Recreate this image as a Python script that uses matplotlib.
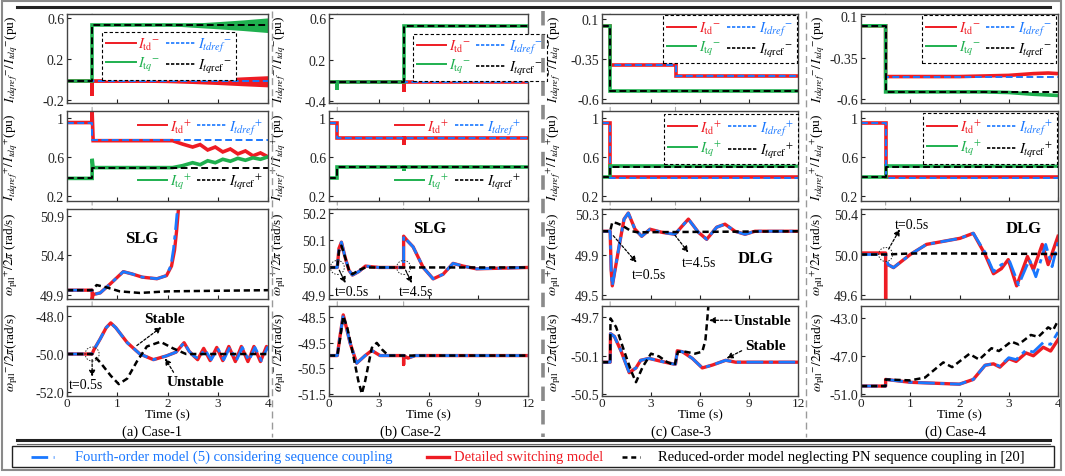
import matplotlib.pyplot as plt
from matplotlib.lines import Line2D
from matplotlib.patches import Rectangle, Circle, ConnectionPatch
from matplotlib.transforms import ScaledTranslation

plt.rcParams['font.family'] = ['Liberation Serif', 'DejaVu Serif']
plt.rcParams['mathtext.fontset'] = 'stix'
plt.rcParams['font.size'] = 10

RED = '#ee1c24'
BLUE = '#1a78ff'
GREEN = '#1fb04f'
GRAY = '#9a9a9a'
W, H = 1065, 477

# ---------------- Case-1 ----------------
c1_faults = [0.5]
c1_itdn_t = [0, 0.5, 0.5, 0.5, 4]
c1_itdn = [-0.02, -0.02, -0.16, -0.02, -0.02]
c1_itqn_t = [0, 0.5, 0.5, 4]
c1_itqn = [-0.02, -0.02, 0.53, 0.53]
c1_itdrefn_t = [0, 4]
c1_itdrefn = [-0.02, -0.02]
c1_itqrefn = [-0.02, -0.02, 0.53, 0.53]
# growing oscillation envelopes (half widths)
c1_band_t = [0.5, 1.5, 2.0, 2.5, 3.0, 3.5, 4.0]
c1_itdn_hw = [0.008, 0.01, 0.014, 0.022, 0.032, 0.044, 0.055]
c1_itqn_hw = [0.0, 0.0, 0.004, 0.02, 0.035, 0.052, 0.072]

c1_itdp_t = [0, 0.5, 0.5, 0.52, 2.1, 2.3, 2.5, 2.65, 2.8, 2.95, 3.1, 3.25, 3.4, 3.55, 3.7, 3.85, 4.0]
c1_itdp = [0.95, 0.95, 1.06, 0.765, 0.765, 0.73, 0.70, 0.725, 0.67, 0.70, 0.65, 0.68, 0.63, 0.66, 0.61, 0.64, 0.60]
c1_itqp_t = [0, 0.5, 0.5, 0.52, 2.1, 2.3, 2.5, 2.65, 2.8, 2.95, 3.1, 3.25, 3.4, 3.55, 3.7, 3.85, 4.0]
c1_itqp = [0.38, 0.38, 0.58, 0.49, 0.49, 0.51, 0.54, 0.52, 0.56, 0.54, 0.575, 0.555, 0.585, 0.565, 0.59, 0.575, 0.60]
c1_itdrefp_t = [0, 0.5, 0.5, 4]
c1_itdrefp = [0.95, 0.95, 0.77, 0.77]
c1_itqrefp = [0.38, 0.38, 0.49, 0.49]

c1_wpp_red_t = [0, 0.5, 0.5, 0.52, 0.66, 0.87, 1.12, 1.3, 1.5, 1.79, 1.98, 2.08, 2.14, 2.18, 2.22]
c1_wpp_red = [49.955, 49.955, 49.84, 49.9, 49.92, 50.04, 50.19, 50.16, 50.12, 50.1, 50.14, 50.26, 50.46, 50.7, 51.0]
c1_wpp_blue_t = [0, 0.5, 0.52, 0.66, 0.87, 1.12, 1.3, 1.5, 1.79, 1.98, 2.07, 2.12, 2.16, 2.2]
c1_wpp_blue = [49.955, 49.955, 49.9, 49.92, 50.04, 50.19, 50.16, 50.12, 50.1, 50.14, 50.27, 50.48, 50.72, 51.0]
c1_wpp_blk_t = [0, 0.5, 0.59, 0.79, 1.05, 1.45, 2.0, 4]
c1_wpp_blk = [49.955, 49.955, 50.02, 49.99, 49.94, 49.92, 49.94, 49.955]

c1_wpn_red_t = [0, 0.5, 0.53, 0.66, 0.78, 0.87, 0.97, 1.2, 1.45, 1.72, 1.98, 2.17, 2.33, 2.43, 2.52,
                2.6, 2.72, 2.85, 2.98, 3.1, 3.22, 3.35, 3.47, 3.6, 3.72, 3.85, 3.97, 4.0]
c1_wpn_red = [-50, -50, -49.8, -49.2, -48.6, -48.35, -48.6, -49.4, -50.0, -50.3, -50.1, -49.9, -49.4, -49.85, -50.1,
              -50.3, -49.7, -50.35, -49.65, -50.35, -49.6, -50.4, -49.6, -50.4, -49.6, -50.4, -49.6, -49.7]
c1_wpn_blue_t = [0, 0.5, 0.53, 0.66, 0.78, 0.87, 0.97, 1.2, 1.45, 1.72, 1.98, 2.17, 2.33, 2.43, 2.52,
                 2.62, 2.74, 2.87, 3.0, 3.12, 3.24, 3.37, 3.49, 3.62, 3.74, 3.87, 3.99, 4.0]
c1_wpn_blue = [-50, -50, -49.8, -49.2, -48.6, -48.35, -48.6, -49.4, -50.0, -50.3, -50.1, -49.9, -49.4, -49.85, -50.1,
               -50.25, -49.75, -50.3, -49.7, -50.3, -49.65, -50.35, -49.65, -50.35, -49.65, -50.35, -49.65, -49.7]
c1_wpn_blk_t = [0, 0.5, 0.66, 0.87, 1.03, 1.2, 1.39, 1.59, 1.86, 2.11, 2.37, 4]
c1_wpn_blk = [-50, -50, -50.44, -51.15, -51.6, -51.3, -50.4, -49.6, -49.35, -49.7, -50.0, -50.0]

# ---------------- Case-2 ----------------
c2_faults = [0.5, 4.5]
c2_itdn_t = [0, 0.5, 4.5, 4.5, 4.5, 12]
c2_itdn = [-0.02, -0.02, -0.02, -0.12, -0.02, -0.02]
c2_itqn_t = [0, 0.5, 0.5, 0.5, 4.5, 4.5, 12]
c2_itqn = [-0.02, -0.02, -0.10, -0.02, -0.02, 0.53, 0.53]
c2_itdrefn_t = [0, 12]
c2_itdrefn = [-0.02, -0.02]
c2_itqrefn_t = [0, 4.5, 4.5, 12]
c2_itqrefn = [-0.02, -0.02, 0.53, 0.53]

c2_itdp_t = [0, 0.5, 0.5, 4.5, 4.5, 4.5, 12]
c2_itdp = [0.95, 0.95, 0.79, 0.79, 0.72, 0.79, 0.79]
c2_itqp_t = [0, 0.5, 0.5, 4.5, 4.5, 4.5, 12]
c2_itqp = [0.38, 0.38, 0.50, 0.50, 0.46, 0.50, 0.50]
c2_ref_t = [0, 0.5, 0.5, 12]
c2_itdrefp = [0.95, 0.95, 0.79, 0.79]
c2_itqrefp = [0.38, 0.38, 0.50, 0.50]

c2_wpp_red_t = [0, 0.5, 0.6, 0.75, 0.96, 1.2, 1.41, 1.8, 2.2, 3.0, 4.5, 4.5, 4.7, 5.07, 5.68, 6.28,
                6.88, 7.48, 8.09, 8.9, 12]
c2_wpp_red = [50.0, 50.0, 50.07, 50.093, 50.04, 49.99, 49.972, 49.985, 50.005, 50.0, 50.0, 50.115, 50.1, 50.076,
              50.0, 49.958, 49.975, 50.015, 50.005, 49.995, 50.0]
c2_wpp_blue_t = c2_wpp_red_t
c2_wpp_blue = c2_wpp_red
c2_wpp_blk_t = [0, 0.5, 0.6, 0.75, 0.96, 1.2, 1.41, 1.8, 2.2, 12]
c2_wpp_blk = [50.0, 50.0, 50.06, 50.08, 50.04, 49.99, 49.975, 49.99, 50.0, 50.0]

c2_wpn_red_t = [0, 0.5, 0.65, 0.86, 1.05, 1.27, 1.67, 2.18, 2.58, 3.08, 4.5, 4.5, 4.5, 4.76, 5.2, 12]
c2_wpn_red = [-50, -50, -49.3, -48.4, -48.9, -49.5, -50.3, -50.0, -49.8, -50.0, -50.0, -50.35, -50.0, -50.1, -50.0, -50.0]
c2_wpn_blue_t = [0, 0.5, 0.65, 0.86, 1.05, 1.27, 1.67, 2.18, 2.58, 3.08, 4.5, 4.76, 5.2, 12]
c2_wpn_blue = [-50, -50, -49.3, -48.4, -48.9, -49.5, -50.3, -50.0, -49.8, -50.0, -50.0, -50.1, -50.0, -50.0]
c2_wpn_blk_t = [0, 0.5, 0.65, 0.86, 1.1, 1.37, 1.77, 1.98, 2.18, 2.58, 2.88, 3.18, 3.58, 12]
c2_wpn_blk = [-50, -50, -49.4, -48.45, -48.9, -49.7, -51.0, -51.5, -51.0, -49.7, -49.5, -49.75, -50.0, -50.0]

# ---------------- Case-3 ----------------
c3_faults = [0.5, 4.5]
c3_itdn_t = [0, 0.5, 0.5, 4.5, 4.5, 12]
c3_itdn = [0.045, 0.045, -0.305, -0.305, -0.40, -0.40]
c3_itqn_t = [0, 0.5, 0.5, 12]
c3_itqn = [0.045, 0.045, -0.53, -0.53]
c3_itdrefn = [0.045, 0.045, -0.305, -0.305, -0.40, -0.40]
c3_itqrefn = [0.045, 0.045, -0.53, -0.53]

c3_itdp_t = [0, 0.5, 0.5, 12]
c3_itdp = [0.95, 0.95, 0.39, 0.39]
c3_itqp_t = [0, 0.5, 0.5, 4.5, 4.5, 4.5, 12]
c3_itqp = [0.39, 0.39, 0.51, 0.51, 0.53, 0.51, 0.51]
c3_itdrefp = [0.95, 0.95, 0.385, 0.385]
c3_itqrefp_t = [0, 0.5, 0.5, 12]
c3_itqrefp = [0.39, 0.39, 0.50, 0.50]

c3_wpp_red_t = [0, 0.5, 0.56, 0.63, 0.8, 1.1, 1.35, 1.61, 2.02, 2.43, 2.94, 3.65, 4.47, 4.9, 5.29, 5.9,
                6.41, 7.02, 7.53, 8.14, 8.76, 9.37, 12]
c3_wpp_red = [50.13, 50.13, 49.75, 49.59, 49.75, 50.03, 50.25, 50.31, 50.15, 50.08, 50.15, 50.12, 50.1, 50.18,
              50.25, 50.12, 50.05, 50.17, 50.2, 50.13, 50.1, 50.13, 50.13]
c3_wpp_blue_t = c3_wpp_red_t
c3_wpp_blue = c3_wpp_red
c3_wpp_blk_t = [0, 0.5, 0.63, 0.9, 1.2, 1.5, 1.8, 2.2, 12]
c3_wpp_blk = [50.13, 50.13, 50.22, 50.21, 50.19, 50.16, 50.13, 50.12, 50.13]

c3_wpn_red_t = [0, 0.5, 0.52, 0.76, 1.16, 1.67, 2.08, 2.37, 2.88, 3.6, 4.4, 4.5, 4.61, 4.92, 5.53, 6.14,
                6.76, 7.57, 8.18, 12]
c3_wpn_red = [-50.17, -50.17, -49.87, -49.9, -50.05, -50.28, -50.23, -50.15, -50.13, -50.16, -50.19, -50.19,
              -50.05, -50.06, -50.13, -50.23, -50.2, -50.15, -50.17, -50.17]
c3_wpn_blue_t = c3_wpn_red_t
c3_wpn_blue = c3_wpn_red
c3_wpn_blk_t = [0, 0.5, 0.52, 0.86, 1.37, 1.78, 2.08, 2.49, 3.0, 3.5, 4.0, 4.45, 4.65, 5.1, 5.7, 6.14,
                6.33, 6.44, 6.55]
c3_wpn_blk = [-50.17, -50.17, -49.71, -49.8, -50.06, -50.26, -50.38, -50.22, -50.08, -50.11, -50.17, -50.2,
              -50.06, -50.06, -50.08, -50.06, -49.94, -49.73, -49.5]

# ---------------- Case-4 ----------------
c4_faults = [0.5]
c4_itdn_t = [0, 0.5, 0.5, 2.0, 3.0, 3.5, 3.8, 4.0]
c4_itdn = [0.02, 0.02, -0.41, -0.41, -0.40, -0.385, -0.38, -0.385]
c4_itqn_t = [0, 0.5, 0.5, 2.5, 3.0, 3.5, 4.0]
c4_itqn = [0.02, 0.02, -0.54, -0.54, -0.545, -0.56, -0.57]
c4_ref_t = [0, 0.5, 0.5, 4]
c4_itdrefn = [0.02, 0.02, -0.41, -0.41]
c4_itqrefn = [0.02, 0.02, -0.54, -0.54]

c4_itdp = [0.95, 0.95, 0.39, 0.39]
c4_itqp = [0.39, 0.39, 0.51, 0.51]
c4_itdrefp = [0.95, 0.95, 0.385, 0.385]
c4_itqrefp = [0.39, 0.39, 0.50, 0.50]

c4_wpp_red_t = [0, 0.5, 0.5, 0.5, 0.55, 0.66, 1.0, 1.33, 1.67, 2.01, 2.28, 2.52, 2.69, 2.85, 2.99, 3.16,
                3.38, 3.5, 3.68, 3.8, 4.0]
c4_wpp_red = [50.015, 50.015, 49.56, 49.9, 49.9, 49.87, 50.0, 50.1, 50.13, 50.16, 50.21, 50.0, 49.81, 49.86,
              49.95, 49.69, 49.98, 49.85, 50.1, 49.9, 50.18]
c4_wpp_blue_t = [0, 0.5, 0.55, 0.66, 1.0, 1.33, 1.67, 2.01, 2.28, 2.52, 2.69, 2.85, 3.02, 3.2, 3.42, 3.55,
                 3.75, 3.88, 4.0]
c4_wpp_blue = [50.0, 50.0, 49.9, 49.87, 50.0, 50.1, 50.13, 50.16, 50.21, 50.02, 49.83, 49.9, 49.93, 49.7,
               49.95, 49.78, 50.1, 49.88, 50.12]
c4_wpp_blk_t = [0, 0.5, 1.0, 2.0, 4.0]
c4_wpp_blk = [50.0, 50.0, 50.01, 50.01, 50.005]

c4_wpn_red_t = [0, 0.5, 0.5, 1.0, 2.0, 2.28, 2.52, 2.69, 2.82, 3.0, 3.15, 3.35, 3.5, 3.7, 3.85, 4.0]
c4_wpn_red = [-50.2, -50.2, -49.5, -49.8, -50.0, -49.5, -48.0, -47.85, -48.2, -47.3, -47.6, -46.7, -47.0,
              -46.1, -46.5, -45.3]
c4_wpn_blue_t = c4_wpn_red_t
c4_wpn_blue = [-50.2, -50.2, -49.5, -49.8, -50.0, -49.5, -48.0, -47.85, -48.1, -47.2, -47.4, -46.4, -46.6,
               -45.6, -45.8, -44.5]
c4_wpn_blk_t = [0, 0.5, 0.5, 1.0, 1.3, 1.67, 1.85, 2.2, 2.4, 2.65, 2.8, 3.05, 3.2, 3.45, 3.6, 3.8, 3.9, 4.0]
c4_wpn_blk = [-50.2, -50.2, -49.5, -49.6, -49.3, -47.7, -48.2, -46.8, -47.4, -46.2, -46.5, -45.5, -45.8,
              -44.8, -45.0, -44.0, -44.3, -43.3]

subcaps = ['(a) Case-1', '(b) Case-2', '(c) Case-3', '(d) Case-4']

# ---------------- figure ----------------
fig = plt.figure(figsize=(W / 100, H / 100), dpi=100)

col_x = [(67, 268), (329, 528), (602, 798), (861, 1058)]
row_y = [(15, 104), (112, 202), (210, 300), (307, 397)]
axs = [[fig.add_axes([x0 / W, 1 - y1 / H, (x1 - x0) / W, (y1 - y0) / H]) for (x0, x1) in col_x]
       for (y0, y1) in row_y]

DASH = (0, (3.5, 1.8))


def cur_panel(ax, t_red, red, t_grn, grn, t_blu, blu, t_blk, blk):
    ax.plot(t_red, red, color=RED, lw=2.6, solid_joinstyle='miter')
    ax.plot(t_grn, grn, color=GREEN, lw=2.6, solid_joinstyle='miter')
    ax.plot(t_blu, blu, color=BLUE, lw=1.4, ls=DASH)
    ax.plot(t_blk, blk, color='k', lw=1.4, ls=DASH)


def wp_panel(ax, t_red, red, t_blu, blu, t_blk, blk):
    ax.plot(t_red, red, color=RED, lw=2.4)
    ax.plot(t_blu, blu, color=BLUE, lw=2.0, ls=(0, (6, 2, 1.5, 2)))
    ax.plot(t_blk, blk, color='k', lw=1.8, ls=(0, (2.5, 1.5)))


def style(ax, xmax, xticks, ylim, yticks, ylabels, show_x):
    ax.set_xlim(0, xmax)
    ax.set_ylim(*ylim)
    ax.set_xticks(xticks)
    ax.set_yticks(yticks, ylabels)
    ax.tick_params(direction='in', length=3, width=0.8, labelsize=10, pad=2, colors='#222222')
    ax.tick_params(axis='x', pad=1, labelsize=9.5)
    if not show_x:
        ax.tick_params(labelbottom=False)
    else:
        ax.set_xlabel('Time (s)', labelpad=-1, fontsize=9.5)
    for s in ax.spines.values():
        s.set_color('#444444')
        s.set_linewidth(1.0)


def cur_handles(sign):
    h = [Line2D([], [], color=RED, lw=1.4, label=r'$I_{\rm td}{}^{%s}$' % sign),
         Line2D([], [], color=GREEN, lw=1.4, label=r'$I_{{\rm t}q}{}^{%s}$' % sign),
         Line2D([], [], color=BLUE, lw=1.2, ls=(0, (2, 1)), label=r'$I_{tdref}{}^{%s}$' % sign),
         Line2D([], [], color='k', lw=1.2, ls=(0, (2, 1)), label=r'$I_{tq{\rm ref}}{}^{%s}$' % sign)]
    return h


LEGKW = dict(ncol=2, fontsize=10.5, handlelength=2.0, handletextpad=0.2, columnspacing=0.35,
             labelspacing=0.2, borderpad=0.3, labelcolor='linecolor', borderaxespad=0)


def box_legend(ax, sign, x0, ytop):
    leg = ax.legend(handles=cur_handles(sign), loc='upper left', bbox_to_anchor=(x0, ytop),
                    fancybox=False, framealpha=1, edgecolor='k', **LEGKW)
    leg.get_frame().set_linestyle((0, (3, 2)))
    leg.get_frame().set_linewidth(0.8)


def split_legend(ax, sign, x0):
    h = cur_handles(sign)
    l1 = ax.legend(handles=[h[0], h[2]], loc='upper left', bbox_to_anchor=(x0, 0.98), frameon=False, **LEGKW)
    ax.add_artist(l1)
    ax.legend(handles=[h[1], h[3]], loc='lower left', bbox_to_anchor=(x0, 0.06), frameon=False, **LEGKW)


ylab_n = r'$I_{tdqref}{}^{-}/\,I_{tdq}{}^{-}$(pu)'
ylab_p = r'$I_{tdqref}{}^{+}/\,I_{tdq}{}^{+}$(pu)'
ylab_wp = r'$\omega_{\rm pll}{}^{+}/2\pi$ (rad/s)'
ylab_wn = r'$\omega_{\rm pll}{}^{-}/2\pi$(rad/s)'

# ---- Case-1 ----
ax = axs[0][0]
ax.fill_between(c1_band_t, [-0.02 - h for h in c1_itdn_hw], [-0.02 + h for h in c1_itdn_hw], color=RED, lw=0)
ax.fill_between(c1_band_t, [0.53 - h for h in c1_itqn_hw], [0.53 + h for h in c1_itqn_hw], color=GREEN, lw=0)
cur_panel(ax, c1_itdn_t, c1_itdn, c1_itqn_t, c1_itqn, c1_itdrefn_t, c1_itdrefn, c1_itqn_t, c1_itqrefn)
style(ax, 4, [0, 1, 2, 3, 4], (-0.233, 0.64), [-0.2, 0.2, 0.6], ['-0.2', '0.2', '0.6'], False)
box_legend(ax, '-', 0.174, 0.80)
ax = axs[1][0]
cur_panel(ax, c1_itdp_t, c1_itdp, c1_itqp_t, c1_itqp, c1_itdrefp_t, c1_itdrefp, c1_itdrefp_t, c1_itqrefp)
style(ax, 4, [0, 1, 2, 3, 4], (0.149, 1.068), [0.2, 0.6, 1.0], ['0.2', '0.6', '1'], False)
split_legend(ax, '+', 0.33)
ax = axs[2][0]
wp_panel(ax, c1_wpp_red_t, c1_wpp_red, c1_wpp_blue_t, c1_wpp_blue, c1_wpp_blk_t, c1_wpp_blk)
style(ax, 4, [0, 1, 2, 3, 4], (49.843, 50.985), [49.9, 50.4, 50.9], ['49.9', '50.4', '50.9'], False)
ax.text(1.49, 50.62, 'SLG', fontsize=12, fontweight='bold', ha='center', va='center')
ax = axs[3][0]
wp_panel(ax, c1_wpn_red_t, c1_wpn_red, c1_wpn_blue_t, c1_wpn_blue, c1_wpn_blk_t, c1_wpn_blk)
style(ax, 4, [0, 1, 2, 3, 4], (-52.23, -47.45), [-52, -50, -48], ['-52.0', '-50.0', '-48.0'], True)

# ---- Case-2 ----
ax = axs[0][1]
cur_panel(ax, c2_itdn_t, c2_itdn, c2_itqn_t, c2_itqn, c2_itdrefn_t, c2_itdrefn, c2_itqrefn_t, c2_itqrefn)
style(ax, 12, [0, 3, 6, 9, 12], (-0.223, 0.643), [-0.2, 0.2, 0.6], ['-0.4', '0.2', '0.6'], False)
box_legend(ax, '-', 0.42, 0.78)
ax = axs[1][1]
cur_panel(ax, c2_itdp_t, c2_itdp, c2_itqp_t, c2_itqp, c2_ref_t, c2_itdrefp, c2_ref_t, c2_itqrefp)
style(ax, 12, [0, 3, 6, 9, 12], (0.149, 1.068), [0.2, 0.6, 1.0], ['0.2', '0.6', '1'], False)
split_legend(ax, '+', 0.31)
ax = axs[2][1]
wp_panel(ax, c2_wpp_red_t, c2_wpp_red, c2_wpp_blue_t, c2_wpp_blue, c2_wpp_blk_t, c2_wpp_blk)
style(ax, 12, [0, 3, 6, 9, 12], (49.884, 50.215), [49.9, 50.0, 50.1, 50.2], ['49.9', '50.0', '50.1', '50.2'], False)
ax.text(6.1, 50.145, 'SLG', fontsize=12, fontweight='bold', ha='center', va='center')
ax = axs[3][1]
wp_panel(ax, c2_wpn_red_t, c2_wpn_red, c2_wpn_blue_t, c2_wpn_blue, c2_wpn_blk_t, c2_wpn_blk)
style(ax, 12, [0, 3, 6, 9, 12], (-51.59, -48.05), [-51.5, -50.5, -49.5, -48.5],
      ['-51.5', '-50.5', '-49.5', '-48.5'], True)

# ---- Case-3 ----
ax = axs[0][2]
cur_panel(ax, c3_itdn_t, c3_itdn, c3_itqn_t, c3_itqn, c3_itdn_t, c3_itdrefn, c3_itqn_t, c3_itqrefn)
style(ax, 12, [0, 3, 6, 9, 12], (-0.634, 0.146), [-0.6, -0.25, 0.1], ['-0.6', '-0.35', '0.1'], False)
box_legend(ax, '-', 0.31, 0.985)
ax = axs[1][2]
cur_panel(ax, c3_itdp_t, c3_itdp, c3_itqp_t, c3_itqp, c3_itdp_t, c3_itdrefp, c3_itqrefp_t, c3_itqrefp)
style(ax, 12, [0, 3, 6, 9, 12], (0.149, 1.068), [0.2, 0.6, 1.0], ['0.2', '0.6', '1'], False)
box_legend(ax, '+', 0.316, 0.967)
ax = axs[2][2]
wp_panel(ax, c3_wpp_red_t, c3_wpp_red, c3_wpp_blue_t, c3_wpp_blue, c3_wpp_blk_t, c3_wpp_blk)
style(ax, 12, [0, 3, 6, 9, 12], (49.46, 50.35), [49.5, 49.9, 50.3], ['49.5', '49.9', '50.3'], False)
ax.text(9.43, 49.87, 'DLG', fontsize=12, fontweight='bold', ha='center', va='center')
ax = axs[3][2]
wp_panel(ax, c3_wpn_red_t, c3_wpn_red, c3_wpn_blue_t, c3_wpn_blue, c3_wpn_blk_t, c3_wpn_blk)
style(ax, 12, [0, 3, 6, 9, 12], (-50.525, -49.58), [-50.5, -50.1, -49.7], ['-50.5', '-50.1', '-49.7'], True)

# ---- Case-4 ----
ax = axs[0][3]
cur_panel(ax, c4_itdn_t, c4_itdn, c4_itqn_t, c4_itqn, c4_ref_t, c4_itdrefn, c4_ref_t, c4_itqrefn)
style(ax, 4, [0, 1, 2, 3, 4], (-0.634, 0.12), [-0.6, -0.25, 0.1], ['-0.6', '-0.35', '0.1'], False)
box_legend(ax, '-', 0.31, 0.985)
ax = axs[1][3]
cur_panel(ax, c4_ref_t, c4_itdp, c4_ref_t, c4_itqp, c4_ref_t, c4_itdrefp, c4_ref_t, c4_itqrefp)
style(ax, 4, [0, 1, 2, 3, 4], (0.149, 1.068), [0.2, 0.6, 1.0], ['0.2', '0.6', '1'], False)
box_legend(ax, '+', 0.315, 0.975)
ax = axs[2][3]
wp_panel(ax, c4_wpp_red_t, c4_wpp_red, c4_wpp_blue_t, c4_wpp_blue, c4_wpp_blk_t, c4_wpp_blk)
style(ax, 4, [0, 1, 2, 3, 4], (49.56, 50.45), [49.6, 50.0, 50.4], ['49.6', '50.0', '50.4'], False)
ax.text(3.31, 50.26, 'DLG', fontsize=12, fontweight='bold', ha='center', va='center')
ax = axs[3][3]
wp_panel(ax, c4_wpn_red_t, c4_wpn_red, c4_wpn_blue_t, c4_wpn_blue, c4_wpn_blk_t, c4_wpn_blk)
style(ax, 4, [0, 1, 2, 3, 4], (-51.25, -41.74), [-51, -47, -43], ['-51.0', '-47.0', '-43.0'], True)

# y labels
ylabx = [-0.235, -0.205, -0.2, -0.175]
for c in range(4):
    for r, lab in enumerate([ylab_n, ylab_p, ylab_wp, ylab_wn]):
        axs[r][c].set_ylabel(lab, fontsize=9.5)
        axs[r][c].yaxis.set_label_coords(ylabx[c], 0.5)

# fault instants: dashed lines through all four rows
for c, faults in enumerate([c1_faults, c2_faults, c3_faults, c4_faults]):
    for tf in faults:
        con = ConnectionPatch(xyA=(tf, 1), coordsA=axs[0][c].get_xaxis_transform(),
                              xyB=(tf, 0), coordsB=axs[3][c].get_xaxis_transform(),
                              color='#a8a8a8', lw=0.8, ls=(0, (4, 3)), zorder=0)
        fig.add_artist(con)


# annotations
def ring(ax, x, y, r=0.07):
    fig.add_artist(Circle((0, 0), r, transform=fig.dpi_scale_trans + ScaledTranslation(x, y, ax.transData),
                          fill=False, ls=(0, (1.5, 1.5)), lw=0.7, ec='#333333'))


def arrow(ax, start, end):
    ax.annotate('', xy=end, xytext=start,
                arrowprops=dict(arrowstyle='-|>', ls=(0, (2, 1.5)), lw=0.9, color='k',
                                mutation_scale=9, shrinkA=0, shrinkB=0))


ax = axs[3][0]
ring(ax, 0.5, -50.0)
arrow(ax, (0.5, -50.3), (0.5, -51.2))
ax.text(0.38, -51.62, 't=0.5s', fontsize=10, ha='center', va='center')
arrow(ax, (1.39, -49.55), (1.88, -48.57))
ax.text(1.95, -48.1, 'Stable', fontsize=11, fontweight='bold', ha='center', va='center')
arrow(ax, (2.12, -50.97), (1.95, -50.23))
ax.text(2.55, -51.47, 'Unstable', fontsize=11, fontweight='bold', ha='center', va='center')

ax = axs[2][1]
ring(ax, 0.5, 50.0)
ring(ax, 4.5, 50.0)
arrow(ax, (0.62, 49.99), (1.0, 49.942))
arrow(ax, (4.62, 49.99), (5.0, 49.942))
ax.text(1.37, 49.912, 't=0.5s', fontsize=10, ha='center', va='center')
ax.text(5.27, 49.912, 't=4.5s', fontsize=10, ha='center', va='center')

ax = axs[2][2]
arrow(ax, (0.69, 50.086), (2.12, 49.82))
arrow(ax, (4.47, 50.09), (5.29, 49.92))
ax.text(2.88, 49.70, 't=0.5s', fontsize=10, ha='center', va='center')
ax.text(5.94, 49.82, 't=4.5s', fontsize=10, ha='center', va='center')

ax = axs[3][2]
arrow(ax, (7.94, -49.73), (6.55, -49.73))
ax.text(9.85, -49.73, 'Unstable', fontsize=11, fontweight='bold', ha='center', va='center')
arrow(ax, (8.55, -50.05), (7.63, -50.13))
ax.text(9.98, -50.0, 'Stable', fontsize=11, fontweight='bold', ha='center', va='center')

ax = axs[2][3]
ring(ax, 0.5, 50.0)
arrow(ax, (0.56, 50.054), (0.79, 50.25))
ax.text(1.03, 50.30, 't=0.5s', fontsize=10, ha='center', va='center')

# sub captions
for c, cx in enumerate([152, 410, 681, 955]):
    fig.text(cx / W, 1 - 432 / H, subcaps[c], fontsize=10.5, ha='center', va='center')

# frames, separators
fig.add_artist(Rectangle((2 / W, 1 - 471 / H), 1059 / W, 469 / H, transform=fig.transFigure,
                         fill=False, ec='#8a8a8a', lw=1.5))
fig.add_artist(Line2D([17 / W, 1050 / W], [1 - 8 / H] * 2, color='#222222', lw=2.2))
fig.add_artist(Line2D([17 / W, 1050 / W], [1 - 441 / H] * 2, color='#222222', lw=2.2))
fig.add_artist(Line2D([17 / W, 1050 / W], [1 - 444.5 / H] * 2, color='#666666', lw=0.8))
fig.add_artist(Line2D([272 / W] * 2, [1 - 12 / H, 1 - 438 / H], color='#9a9a9a', lw=1, ls=(0, (5, 3))))
fig.add_artist(Line2D([543 / W] * 2, [1 - 12 / H, 1 - 438 / H], color='#8a8a8a', lw=2.6, ls=(0, (4, 2.5))))
fig.add_artist(Line2D([806 / W] * 2, [1 - 12 / H, 1 - 438 / H], color='#9a9a9a', lw=1, ls=(0, (5, 3))))

# bottom legend
fig.add_artist(Rectangle((12 / W, 1 - 468 / H), 1042 / W, 21 / H, transform=fig.transFigure,
                         fill=False, ec='#222222', lw=1))
ly = 1 - 457.5 / H
fig.add_artist(Line2D([31 / W, 54 / W], [ly, ly], color=BLUE, lw=2.0, ls=(0, (6, 2, 1.5, 2))))
fig.text(75 / W, ly, 'Fourth-order model (5) considering sequence coupling', color=BLUE,
         fontsize=10.5, va='center', ha='left')
fig.add_artist(Line2D([427 / W, 449 / W], [ly, ly], color=RED, lw=2.4))
fig.text(454 / W, ly, 'Detailed switching model', color=RED, fontsize=10.5, va='center', ha='left')
fig.add_artist(Line2D([622 / W, 640 / W], [ly, ly], color='k', lw=1.8, ls=(0, (2, 1.5))))
fig.text(658 / W, ly, 'Reduced-order model neglecting PN sequence coupling in [20]', color='k',
         fontsize=10.5, va='center', ha='left')

fig.savefig('out.png', dpi=100)
